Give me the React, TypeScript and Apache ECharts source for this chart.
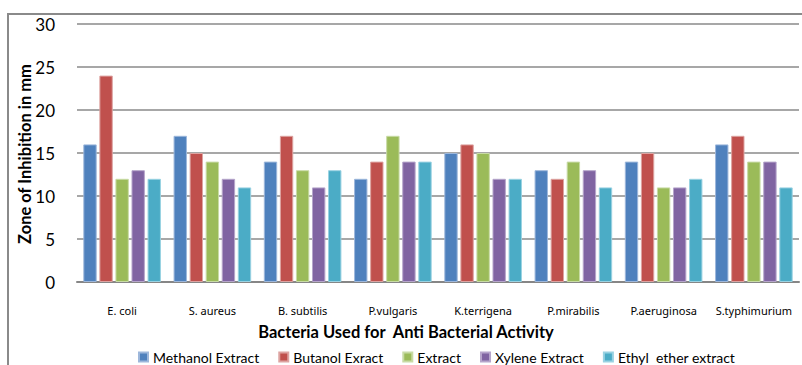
import React, { useEffect, useRef } from "react";
import * as echarts from "echarts";

const categories = ["E. coli", "S. aureus", "B. subtilis", "P.vulgaris", "K.terrigena", "P.mirabilis", "P.aeruginosa", "S.typhimurium"];
const seriesNames = ["Methanol Extract", "Butanol Exract", "Extract", "Xylene Extract", "Ethyl  ether extract"];
const methanol = [16, 17, 14, 12, 15, 13, 14, 16];
const butanol = [24, 15, 17, 14, 16, 12, 15, 17];
const extract = [12, 14, 13, 17, 15, 14, 11, 14];
const xylene = [13, 12, 11, 14, 12, 13, 11, 14];
const ethyl = [12, 11, 13, 14, 12, 11, 12, 11];
const yTicks = [0, 5, 10, 15, 20, 25, 30];

const colors = ["#4F81BD", "#C0504D", "#9BBB59", "#8064A2", "#4BACC6"];
const borders = ["#9DB7DB", "#DDA3A1", "#C8DBA5", "#B6A5CB", "#99D2E2"];
const FONT = "Lato, 'Noto Sans', sans-serif";

export default function App() {
  const ref = useRef<HTMLDivElement>(null);
  useEffect(() => {
    if (!ref.current) return;
    const chart = echarts.init(ref.current, undefined, { renderer: "svg" });
    const data = [methanol, butanol, extract, xylene, ethyl];
    chart.setOption({
      animation: false,
      textStyle: { fontFamily: FONT },
      grid: { left: 77, right: 3, top: 24, bottom: 83, containLabel: false },
      legend: {
        left: 133,
        top: 345,
        itemWidth: 9,
        itemHeight: 9,
        itemGap: 19,
        icon: "rect",
        textStyle: { fontFamily: FONT, fontSize: 14, color: "#000" },
        data: seriesNames,
      },
      xAxis: {
        type: "category",
        data: categories,
        axisLine: { lineStyle: { color: "#868686", width: 2 } },
        axisTick: { show: false },
        axisLabel: { interval: 0, fontFamily: "'Noto Sans', sans-serif", fontSize: 11, color: "#000", margin: 23 },
      },
      yAxis: {
        type: "value",
        min: 0,
        max: 30,
        interval: 5,
        axisLine: { show: false },
        axisTick: { show: false },
        axisLabel: { fontFamily: FONT, fontSize: 17, color: "#000", margin: 22, formatter: (v: number) => (yTicks.includes(v) ? String(v) : "") },
        splitLine: { lineStyle: { color: "#8a8a8a", width: 1.5 } },
      },
      graphic: [
        {
          type: "rect",
          shape: { x: 8, y: 14, width: 900, height: 400 },
          style: { fill: "none", stroke: "#8a8a8a", lineWidth: 2 },
          silent: true,
        },
        {
          type: "text",
          x: 25,
          y: 154,
          rotation: Math.PI / 2,
          style: {
            text: "Zone of Inhibition in mm",
            fontFamily: FONT,
            fontSize: 16.5,
            fontWeight: "bold",
            fill: "#000",
            align: "center",
            verticalAlign: "middle",
          },
        },
        {
          type: "text",
          x: 406,
          y: 332,
          style: {
            text: "Bacteria Used for  Anti Bacterial Activity",
            fontFamily: FONT,
            fontSize: 16.5,
            fontWeight: "bold",
            fill: "#000",
            align: "center",
            verticalAlign: "middle",
          },
        },
      ],
      series: seriesNames.map((name, i) => ({
        name,
        type: "bar",
        data: data[i],
        barGap: "20%",
        barCategoryGap: "14%",
        itemStyle: { color: colors[i], borderColor: borders[i], borderWidth: 1 },
      })),
    });
    return () => chart.dispose();
  }, []);
  return <div ref={ref} style={{ width: 802, height: 365, position: "absolute", left: 0, top: 0, background: "#fff" }} />;
}
